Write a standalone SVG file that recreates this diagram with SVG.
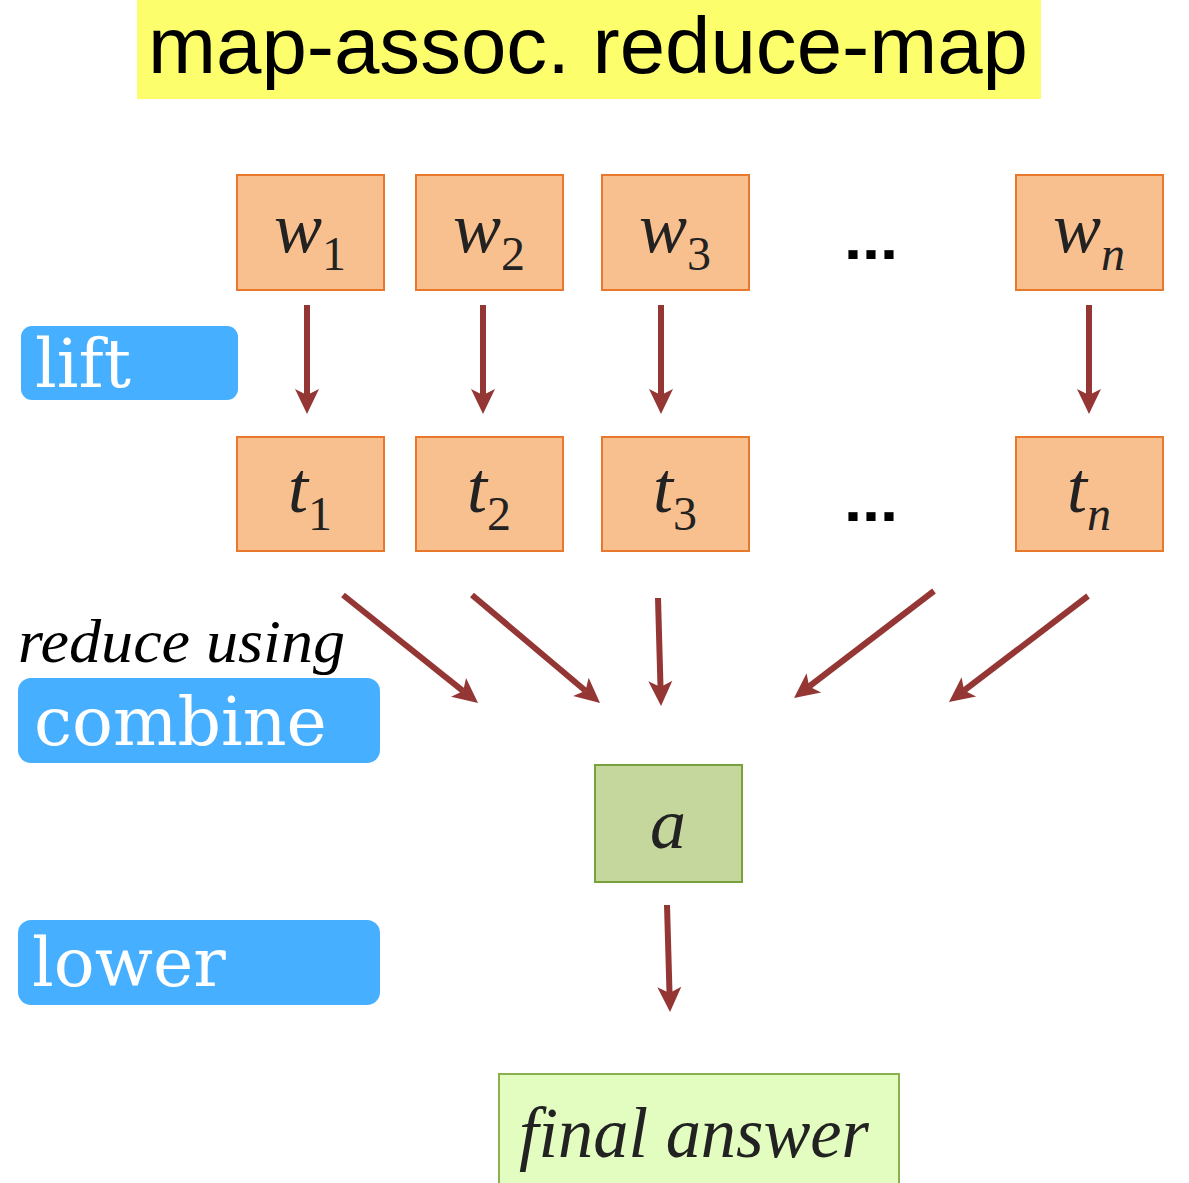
<svg xmlns="http://www.w3.org/2000/svg" width="1189" height="1183" viewBox="0 0 1189 1183">
  <style>
    .title { font-family: "Liberation Sans", Arial, sans-serif; font-size: 80px; fill: #000; }
    .cell { fill: #F9C08F; stroke: #E8782C; stroke-width: 2; }
    .math { font-family: "Liberation Serif", "Times New Roman", serif; font-style: italic; font-size: 72px; fill: #222; }
    .sub { font-size: 48px; font-style: normal; }
    .subi { font-size: 48px; font-style: italic; }
    .dots { font-family: "Liberation Sans", Arial, sans-serif; font-weight: bold; font-size: 60px; fill: #000; }
    .badge { fill: #47AFFF; }
    .badge-text { font-family: "DejaVu Serif", serif; font-size: 68px; fill: #fff; }
    .note { font-family: "Liberation Serif", "Times New Roman", serif; font-style: italic; font-size: 62px; fill: #000; }
    .conn { stroke: #943634; stroke-width: 6; fill: none; marker-end: url(#head); }
  </style>
  <defs>
    <!-- barbed head; the line stops at the notch, the tip sits 19px further on -->
    <marker id="head" markerUnits="userSpaceOnUse" viewBox="-7 -13 27 26" refX="0" refY="0" markerWidth="27" markerHeight="26" orient="auto">
      <path d="M19,0 L-6,-12 L0,0 L-6,12 Z" fill="#943634"/>
    </marker>
  </defs>

  <rect width="1189" height="1183" fill="#fff"/>

  <!-- title -->
  <g id="title">
    <rect x="137" y="0" width="904" height="99" fill="#FCFE6C"/>
    <text class="title" x="148" y="73" textLength="880" lengthAdjust="spacingAndGlyphs">map-assoc. reduce-map</text>
  </g>

  <!-- input row -->
  <g id="w1"><rect class="cell" x="237" y="175" width="147" height="115"/>
    <text class="math" x="310" y="252" text-anchor="middle">w<tspan class="sub" dy="18">1</tspan></text></g>
  <g id="w2"><rect class="cell" x="416" y="175" width="147" height="115"/>
    <text class="math" x="489" y="252" text-anchor="middle">w<tspan class="sub" dy="18">2</tspan></text></g>
  <g id="w3"><rect class="cell" x="602" y="175" width="147" height="115"/>
    <text class="math" x="675" y="252" text-anchor="middle">w<tspan class="sub" dy="18">3</tspan></text></g>
  <g id="wdots"><text class="dots" x="844" y="259" textLength="54" lengthAdjust="spacingAndGlyphs">...</text></g>
  <g id="wn"><rect class="cell" x="1016" y="175" width="147" height="115"/>
    <text class="math" x="1089" y="252" text-anchor="middle">w<tspan class="subi" dy="18">n</tspan></text></g>

  <!-- lifted row -->
  <g id="t1"><rect class="cell" x="237" y="437" width="147" height="114"/>
    <text class="math" x="310" y="512" text-anchor="middle">t<tspan class="sub" dy="18">1</tspan></text></g>
  <g id="t2"><rect class="cell" x="416" y="437" width="147" height="114"/>
    <text class="math" x="489" y="512" text-anchor="middle">t<tspan class="sub" dy="18">2</tspan></text></g>
  <g id="t3"><rect class="cell" x="602" y="437" width="147" height="114"/>
    <text class="math" x="675" y="512" text-anchor="middle">t<tspan class="sub" dy="18">3</tspan></text></g>
  <g id="tdots"><text class="dots" x="844" y="521" textLength="54" lengthAdjust="spacingAndGlyphs">...</text></g>
  <g id="tn"><rect class="cell" x="1016" y="437" width="147" height="114"/>
    <text class="math" x="1089" y="512" text-anchor="middle">t<tspan class="subi" dy="18">n</tspan></text></g>

  <!-- accumulated value -->
  <g id="a">
    <rect x="595" y="765" width="147" height="117" fill="#C5D79D" stroke="#77A13D" stroke-width="2"/>
    <text class="math" x="668" y="848" text-anchor="middle">a</text>
  </g>

  <!-- result -->
  <g id="final">
    <rect x="499" y="1074" width="400" height="120" fill="#E3FDC0" stroke="#8AB04F" stroke-width="2"/>
    <text class="math" x="519" y="1157" font-size="68" textLength="350" lengthAdjust="spacingAndGlyphs">final answer</text>
  </g>

  <!-- step labels -->
  <g id="lift">
    <rect class="badge" x="21" y="326" width="217" height="74" rx="11"/>
    <text class="badge-text" x="35" y="387">lift</text>
  </g>
  <g id="reduce-using">
    <text class="note" x="18" y="662" textLength="327" lengthAdjust="spacingAndGlyphs">reduce using</text>
  </g>
  <g id="combine">
    <rect class="badge" x="18" y="678" width="362" height="85" rx="13"/>
    <text class="badge-text" x="34" y="745">combine</text>
  </g>
  <g id="lower">
    <rect class="badge" x="18" y="920" width="362" height="85" rx="13"/>
    <text class="badge-text" x="32" y="986">lower</text>
  </g>

  <!-- connectors -->
  <g id="connectors">
    <line class="conn" x1="307" y1="305" x2="307" y2="395"/>
    <line class="conn" x1="483" y1="305" x2="483" y2="395"/>
    <line class="conn" x1="661" y1="305" x2="661" y2="395"/>
    <line class="conn" x1="1089" y1="305" x2="1089" y2="395"/>

    <line class="conn" x1="343" y1="595" x2="463.2" y2="691.1"/>
    <line class="conn" x1="472" y1="595" x2="585.5" y2="690.7"/>
    <line class="conn" x1="658" y1="598" x2="660.5" y2="687"/>
    <line class="conn" x1="934" y1="591" x2="809.1" y2="686.5"/>
    <line class="conn" x1="1088" y1="596" x2="964.1" y2="690.5"/>

    <line class="conn" x1="667" y1="905" x2="669.5" y2="993"/>
  </g>
</svg>
